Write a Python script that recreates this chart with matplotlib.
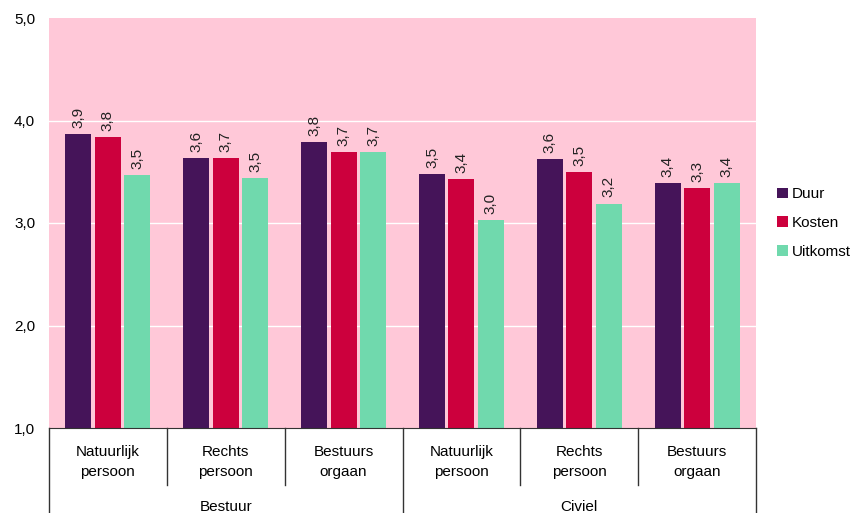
import matplotlib.pyplot as plt
import numpy as np
from matplotlib.lines import Line2D

plt.rcParams["font.family"] = ["Liberation Sans", "DejaVu Sans"]

groups = ["Bestuur", "Civiel"]
subgroups = ["Natuurlijk\npersoon", "Rechts\npersoon", "Bestuurs\norgaan"]
series = ["Duur", "Kosten", "Uitkomst"]
colors = ["#451459", "#CC003D", "#70D9AD"]

duur = [3.87, 3.63, 3.79, 3.48, 3.62, 3.39]
kosten = [3.84, 3.63, 3.69, 3.43, 3.50, 3.34]
uitkomst = [3.47, 3.44, 3.69, 3.03, 3.19, 3.39]
duur_labels = ["3,9", "3,6", "3,8", "3,5", "3,6", "3,4"]
kosten_labels = ["3,8", "3,7", "3,7", "3,4", "3,5", "3,3"]
uitkomst_labels = ["3,5", "3,5", "3,7", "3,0", "3,2", "3,4"]

values = [duur, kosten, uitkomst]
labels = [duur_labels, kosten_labels, uitkomst_labels]

fig = plt.figure(figsize=(8.52, 5.13), dpi=100)
ax = fig.add_axes([49 / 852, 1 - 428 / 513, 707 / 852, 410 / 513])
ax.set_facecolor("#FFC8D8")

n = len(duur)
x = np.arange(n) + 0.5
width = 0.22
step = 0.25
for i, (vals, labs, color, name) in enumerate(zip(values, labels, colors, series)):
    pos = x + (i - 1) * step
    ax.bar(pos, np.array(vals) - 1.0, bottom=1.0, width=width, color=color,
           label=name, zorder=2)
    for p, v, t in zip(pos, vals, labs):
        ax.text(p, v + 0.06, t, rotation=90, ha="center", va="bottom",
                fontsize=11, color="#222222")

ax.set_xlim(0, n)
ax.set_ylim(1, 5)
ax.set_yticks([1, 2, 3, 4, 5])
ax.set_yticklabels(["1,0", "2,0", "3,0", "4,0", "5,0"], fontsize=11)
for y in [2, 3, 4]:
    ax.axhline(y, color="white", linewidth=1, zorder=1)
ax.set_xticks([])
ax.tick_params(axis="y", length=0, pad=10)
for side in ["top", "right", "left"]:
    ax.spines[side].set_visible(False)
ax.spines["bottom"].set_color("#333333")

# hierarchical x-axis labels
trans = ax.get_xaxis_transform()
inner_depth = -57 / 410
outer_depth = -85 / 410
for k in range(n + 1):
    depth = outer_depth if k % 3 == 0 else inner_depth
    ax.add_line(Line2D([k, k], [0, depth], transform=trans, color="#333333",
                       linewidth=1, clip_on=False))
for k in range(n):
    ax.text(k + 0.5, -34 / 410, subgroups[k % 3], transform=trans,
            ha="center", va="center", fontsize=11, linespacing=1.6)
for g, name in enumerate(groups):
    ax.text(g * 3 + 1.5, -79 / 410, name, transform=trans, ha="center",
            va="center", fontsize=11)

handles, names = ax.get_legend_handles_labels()
leg = ax.legend(handles, names, loc="center left", bbox_to_anchor=(1.01, 0.5),
                frameon=False, fontsize=11, handlelength=0.7, handleheight=0.7,
                handletextpad=0.3, labelspacing=0.95)

fig.savefig("out.png", dpi=100)
